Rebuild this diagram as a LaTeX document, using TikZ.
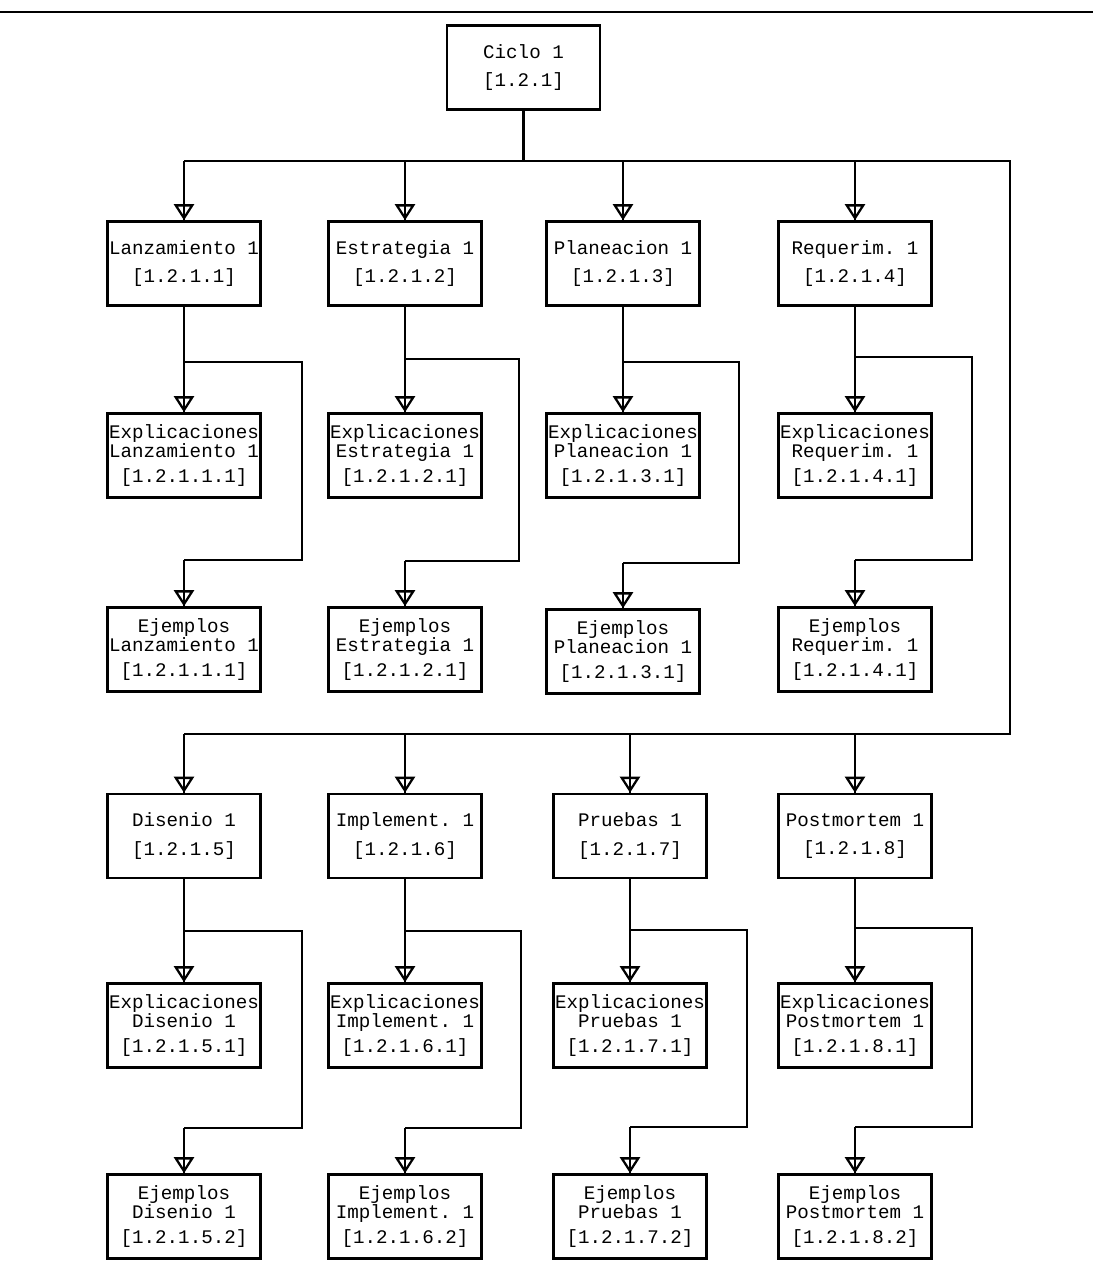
\documentclass[tikz,border=0pt]{standalone}
\usepackage{fontspec}
\setmonofont{Liberation Mono}
\usetikzlibrary{arrows.meta}

% typewriter face used inside every box
\newcommand{\cardfont}{\ttfamily\fontsize{14.4pt}{14.3pt}\selectfont}
% two-line and three-line box labels
\newcommand{\twol}[2]{#1\\[7pt]#2}
\newcommand{\threel}[3]{#1\\#2\\[5pt]#3}

\tikzset{
  box/.style={draw, line width=1.9pt, minimum width=115pt, minimum height=63pt,
              inner sep=0pt, align=center, font=\cardfont},
  wire/.style={line width=1.7pt},
  flow/.style={wire, -{Triangle[open, length=12pt, width=15pt, line width=1.7pt]},
               postaction={draw, arrows=-}},
}

\begin{document}
\begin{tikzpicture}[x=0.75pt, y=-0.75pt]
\useasboundingbox (0,0) rectangle (1093,1281);

% rule across the top of the sheet
\draw[line width=2pt] (0,12) -- (1093,12);

% ---------- root ----------
\node[box] (root) at (523.5,67.5) {\twol{Ciclo 1}{[1.2.1]}};

% ---------- first group of phases ----------
\node[box] (lan) at (184,263.5) {\twol{Lanzamiento 1}{[1.2.1.1]}};
\node[box] (est) at (405,263.5) {\twol{Estrategia 1}{[1.2.1.2]}};
\node[box] (pla) at (623,263.5) {\twol{Planeacion 1}{[1.2.1.3]}};
\node[box] (req) at (855,263.5) {\twol{Requerim. 1}{[1.2.1.4]}};

\node[box] (lanX) at (184,455.5) {\threel{Explicaciones}{Lanzamiento 1}{[1.2.1.1.1]}};
\node[box] (estX) at (405,455.5) {\threel{Explicaciones}{Estrategia 1}{[1.2.1.2.1]}};
\node[box] (plaX) at (623,455.5) {\threel{Explicaciones}{Planeacion 1}{[1.2.1.3.1]}};
\node[box] (reqX) at (855,455.5) {\threel{Explicaciones}{Requerim. 1}{[1.2.1.4.1]}};

\node[box] (lanE) at (184,649.5) {\threel{Ejemplos}{Lanzamiento 1}{[1.2.1.1.1]}};
\node[box] (estE) at (405,649.5) {\threel{Ejemplos}{Estrategia 1}{[1.2.1.2.1]}};
\node[box] (plaE) at (623,651.5) {\threel{Ejemplos}{Planeacion 1}{[1.2.1.3.1]}};
\node[box] (reqE) at (855,649.5) {\threel{Ejemplos}{Requerim. 1}{[1.2.1.4.1]}};

% ---------- second group of phases ----------
\node[box] (dis) at (184,836) {\twol{Disenio 1}{[1.2.1.5]}};
\node[box] (imp) at (405,836) {\twol{Implement. 1}{[1.2.1.6]}};
\node[box] (pru) at (630,836) {\twol{Pruebas 1}{[1.2.1.7]}};
\node[box] (pos) at (855,836) {\twol{Postmortem 1}{[1.2.1.8]}};

\node[box] (disX) at (184,1025.5) {\threel{Explicaciones}{Disenio 1}{[1.2.1.5.1]}};
\node[box] (impX) at (405,1025.5) {\threel{Explicaciones}{Implement. 1}{[1.2.1.6.1]}};
\node[box] (pruX) at (630,1025.5) {\threel{Explicaciones}{Pruebas 1}{[1.2.1.7.1]}};
\node[box] (posX) at (855,1025.5) {\threel{Explicaciones}{Postmortem 1}{[1.2.1.8.1]}};

\node[box] (disE) at (184,1216.5) {\threel{Ejemplos}{Disenio 1}{[1.2.1.5.2]}};
\node[box] (impE) at (405,1216.5) {\threel{Ejemplos}{Implement. 1}{[1.2.1.6.2]}};
\node[box] (pruE) at (630,1216.5) {\threel{Ejemplos}{Pruebas 1}{[1.2.1.7.2]}};
\node[box] (posE) at (855,1216.5) {\threel{Ejemplos}{Postmortem 1}{[1.2.1.8.2]}};

% ---------- main bus from the root ----------
\coordinate (busL)  at (184,161);
\coordinate (busR)  at (1010,161);
\coordinate (busBR) at (1010,734);
\coordinate (busBL) at (184,734);
\draw[wire] (root.south) -- (root.south |- busL);
\draw[wire] (busL) -- (busR) -- (busBR) -- (busBL);

\foreach \n in {lan,est,pla,req}
  \draw[flow] (\n.north |- busL) -- (\n.north);
\foreach \n in {dis,imp,pru,pos}
  \draw[flow] (\n.north |- busBL) -- (\n.north);

% ---------- branch to explanations and examples of each phase ----------
% corner coordinates: (right edge x, branch y) and (right edge x, return y)
\coordinate (lanA) at (302,362);  \coordinate (lanB) at (302,560);
\coordinate (estA) at (519,359);  \coordinate (estB) at (519,561);
\coordinate (plaA) at (739,362);  \coordinate (plaB) at (739,563);
\coordinate (reqA) at (972,357);  \coordinate (reqB) at (972,560);
\coordinate (disA) at (302,931);  \coordinate (disB) at (302,1128);
\coordinate (impA) at (521,931);  \coordinate (impB) at (521,1128);
\coordinate (pruA) at (747,930);  \coordinate (pruB) at (747,1127);
\coordinate (posA) at (972,928);  \coordinate (posB) at (972,1127);

\foreach \n in {lan,est,pla,req,dis,imp,pru,pos}{
  \draw[flow] (\n.south) -- (\n X.north);
  \draw[wire] (\n.south |- \n A) -- (\n A) -- (\n B) -- (\n E.north |- \n B);
  \draw[flow] (\n E.north |- \n B) -- (\n E.north);
}
\end{tikzpicture}
\end{document}
